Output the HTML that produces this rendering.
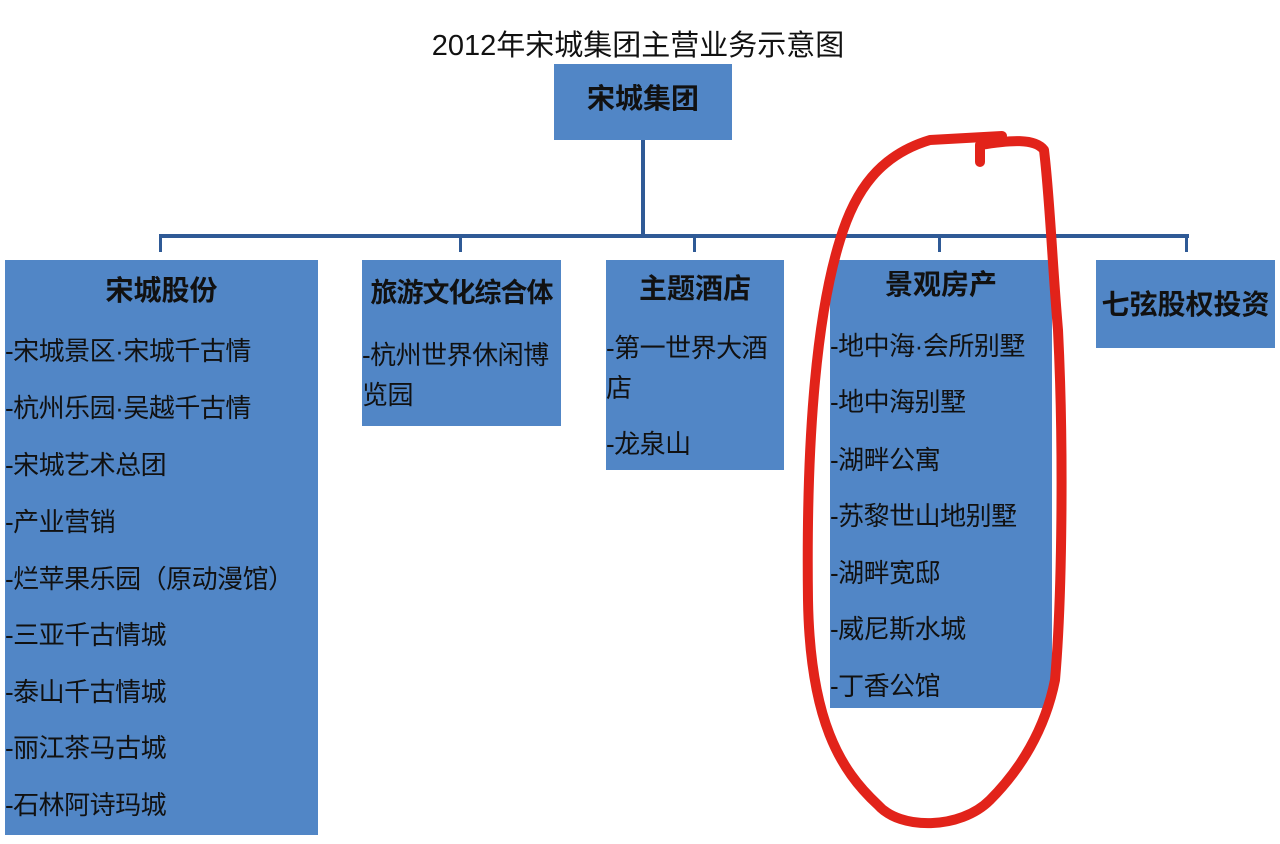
<!DOCTYPE html>
<html><head><meta charset="utf-8"><style>
body{margin:0;width:1280px;height:844px;background:#fff;position:relative;overflow:hidden;font-family:"Liberation Sans","Noto Sans CJK SC",sans-serif}
.b{position:absolute;background:#5186c6;color:#111}
.t{position:absolute;left:0;right:0;text-align:center;font-weight:bold;font-size:28px;white-space:nowrap;line-height:30px}
.i{position:absolute;font-size:26px;white-space:nowrap;line-height:26px;letter-spacing:-0.5px}
.l{position:absolute;background:#2f5a96}
</style></head><body>
<div style="position:absolute;left:0;width:1280px;top:22px;text-align:center;font-size:29px;color:#111">
<span style="position:relative;left:-2px">2012年宋城集团主营业务示意图</span></div>
<div class="b" style="left:554px;top:64px;width:178px;height:76px"><div class="t" style="top:20px">宋城集团</div></div>
<div class="l" style="left:641px;top:140px;width:4px;height:98px"></div>
<div class="l" style="left:159px;top:234px;width:1030px;height:4px"></div>
<div class="l" style="left:159px;top:234px;width:3px;height:18px"></div>
<div class="l" style="left:459px;top:234px;width:3px;height:18px"></div>
<div class="l" style="left:693px;top:234px;width:3px;height:18px"></div>
<div class="l" style="left:938px;top:234px;width:3px;height:18px"></div>
<div class="l" style="left:1185px;top:234px;width:3px;height:18px"></div>

<div class="b" style="left:5px;top:260px;width:313px;height:575px"><div class="t" style="top:16px">宋城股份</div>
<div class="i" style="left:0;top:78px">-宋城景区·宋城千古情</div>
<div class="i" style="left:0;top:135px">-杭州乐园·吴越千古情</div>
<div class="i" style="left:0;top:192px">-宋城艺术总团</div>
<div class="i" style="left:0;top:249px">-产业营销</div>
<div class="i" style="left:0;top:306px">-烂苹果乐园（原动漫馆）</div>
<div class="i" style="left:0;top:362px">-三亚千古情城</div>
<div class="i" style="left:0;top:419px">-泰山千古情城</div>
<div class="i" style="left:0;top:475px">-丽江茶马古城</div>
<div class="i" style="left:0;top:532px">-石林阿诗玛城</div></div>

<div class="b" style="left:362px;top:260px;width:199px;height:166px"><div class="t" style="top:18px;font-size:27px;letter-spacing:-1px">旅游文化综合体</div>
<div class="i" style="left:0;top:82px">-杭州世界休闲博</div>
<div class="i" style="left:0;top:122px">览园</div></div>

<div class="b" style="left:606px;top:260px;width:178px;height:210px"><div class="t" style="top:14px">主题酒店</div>
<div class="i" style="left:0;top:75px">-第一世界大酒</div>
<div class="i" style="left:0;top:115px">店</div>
<div class="i" style="left:0;top:171px">-龙泉山</div></div>

<div class="b" style="left:830px;top:260px;width:222px;height:448px"><div class="t" style="top:10px">景观房产</div>
<div class="i" style="left:0;top:73px">-地中海·会所别墅</div>
<div class="i" style="left:0;top:129px">-地中海别墅</div>
<div class="i" style="left:0;top:187px">-湖畔公寓</div>
<div class="i" style="left:0;top:243px">-苏黎世山地别墅</div>
<div class="i" style="left:0;top:300px">-湖畔宽邸</div>
<div class="i" style="left:0;top:356px">-威尼斯水城</div>
<div class="i" style="left:0;top:413px">-丁香公馆</div></div>

<div class="b" style="left:1096px;top:260px;width:179px;height:88px"><div class="t" style="top:30px">七弦股权投资</div></div>

<svg style="position:absolute;left:0;top:0" width="1280" height="844">
<path d="M980 162 L980 145 C1010 140 1035 138 1044 150 C1050 200 1052 260 1058 330 C1064 450 1062 600 1055 680 C1045 730 1020 770 990 800 C960 830 900 830 878 805 C840 770 810 720 808 600 C806 450 815 320 840 240 C855 190 880 155 930 140 L1002 136"
 fill="none" stroke="#e2231a" stroke-width="10" stroke-linecap="round" stroke-linejoin="round"/>
</svg>
</body></html>
